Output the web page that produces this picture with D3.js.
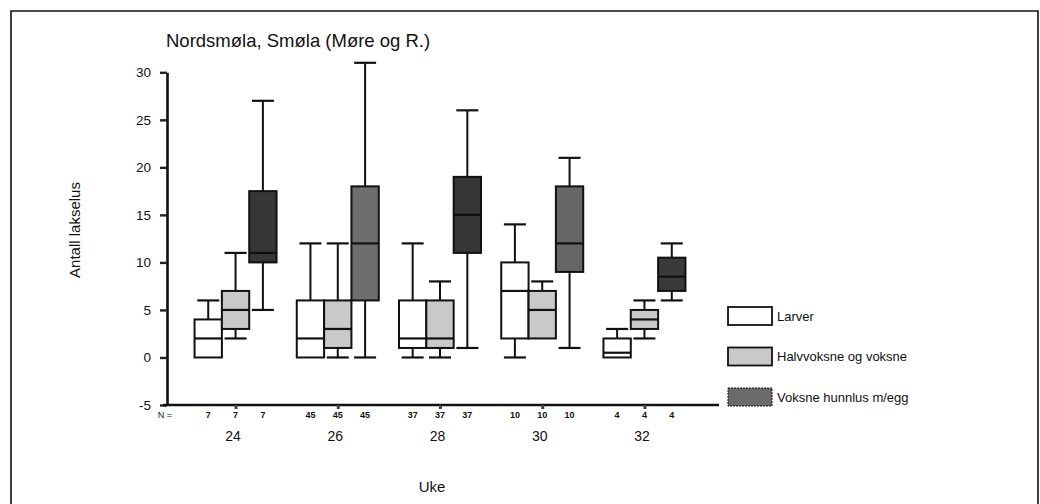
<!DOCTYPE html>
<html>
<head>
<meta charset="utf-8">
<script src="https://cdn.jsdelivr.net/npm/d3@7/dist/d3.min.js"></script>
<style>
  html, body { margin: 0; padding: 0; background: #fff; }
  svg { display: block; font-family: "Liberation Sans", Arial, sans-serif; }
</style>
</head>
<body>
<svg id="chart" width="1040" height="504"></svg>
<script>
// Weeks (Uke) and the three louse stages
const weeks = [24, 26, 28, 30, 32];
const stages = ["Larver", "Halvvoksne og voksne", "Voksne hunnlus m/egg"];
const yTicks = [-5, 0, 5, 10, 15, 20, 25, 30];

// Sample size per week (same for all stages)
const nPerWeek = [7, 45, 37, 10, 4];

// Box statistics per week: [min, q1, median, q3, max]
const larver = [
  [0, 0, 2, 4, 6],
  [0, 0, 2, 6, 12],
  [0, 1, 2, 6, 12],
  [0, 2, 7, 10, 14],
  [0, 0, 0.5, 2, 3]
];
const halvvoksne = [
  [2, 3, 5, 7, 11],
  [0, 1, 3, 6, 12],
  [0, 1, 2, 6, 8],
  [2, 2, 5, 7, 8],
  [2, 3, 4, 5, 6]
];
const hunnlus = [
  [5, 10, 11, 17.5, 27],
  [0, 6, 12, 18, 31],
  [1, 11, 15, 19, 26],
  [1, 9, 12, 18, 21],
  [6, 7, 8.5, 10.5, 12]
];

const seriesStats = [larver, halvvoksne, hunnlus];

// Fill shades: the egg-bearing females print darker in some weeks
const stageFill = ["#ffffff", "#c9c9c9", "#6a6a6a"];
const femaleShadeByWeek = ["#363636", "#6e6e6e", "#363636", "#666666", "#3a3a3a"];

const svg = d3.select("#chart");

// Outer frame
const frame = svg.append("g").attr("stroke", "#111").attr("stroke-width", 1.6).attr("fill", "none");
frame.append("path").attr("d", "M11,504 L11,11 L1038,11 L1038,504");

// Scales
const x = d3.scalePoint().domain(weeks).range([164, 716]).padding(0.7);
const inner = d3.scaleBand().domain(stages).range([-41, 41]);
const bw = inner.bandwidth();
const y = d3.scaleLinear().domain([-5, 30]).range([405, 72.3]);

// Title
svg.append("text")
  .attr("x", 166).attr("y", 47)
  .attr("font-size", 18.5)
  .attr("fill", "#111")
  .text("Nordsmøla, Smøla (Møre og R.)");

// Y axis
const yAxis = svg.append("g")
  .attr("transform", "translate(167,0)")
  .call(d3.axisLeft(y).tickValues(yTicks).tickFormat(d => String(d))
    .tickSize(7).tickPadding(9).tickSizeOuter(0));
yAxis.select(".domain").attr("stroke", "#111").attr("stroke-width", 2.6);
yAxis.selectAll(".tick line").attr("stroke", "#222").attr("stroke-width", 2.4);
yAxis.selectAll(".tick text")
  .attr("font-size", 13.5).attr("fill", "#111")
  .attr("font-family", "Liberation Sans, Arial, sans-serif");

// Y axis title
svg.append("text")
  .attr("transform", "translate(80,230) rotate(-90)")
  .attr("text-anchor", "middle")
  .attr("font-size", 15)
  .attr("fill", "#111")
  .text("Antall lakselus");

// X axis (week labels sit below the N row)
const xAxis = svg.append("g")
  .attr("transform", "translate(0,405)")
  .call(d3.axisBottom(x).tickSize(4).tickPadding(22).tickSizeOuter(0));
xAxis.select(".domain").attr("stroke", "#111").attr("stroke-width", 2.6)
  .attr("d", "M163,0H719");
xAxis.selectAll(".tick line").attr("stroke", "#444").attr("stroke-width", 3);
xAxis.selectAll(".tick text")
  .attr("font-size", 14).attr("fill", "#111")
  .attr("dx", -3)
  .attr("font-family", "Liberation Sans, Arial, sans-serif");

// X axis title
svg.append("text")
  .attr("x", 432).attr("y", 492)
  .attr("text-anchor", "middle")
  .attr("font-size", 15)
  .attr("fill", "#111")
  .text("Uke");

// N row
svg.append("text")
  .attr("x", 165).attr("y", 418)
  .attr("text-anchor", "middle")
  .attr("font-size", 9)
  .attr("fill", "#111")
  .text("N =");

const nRow = svg.append("g");
weeks.forEach((w, wi) => {
  stages.forEach(s => {
    nRow.append("text")
      .attr("x", x(w) + inner(s) + bw / 2)
      .attr("y", 418)
      .attr("text-anchor", "middle")
      .attr("font-size", 9)
      .attr("font-weight", "bold")
      .attr("fill", "#111")
      .text(nPerWeek[wi]);
  });
});

// Box plots
const capHalf = 11;
const boxes = svg.append("g");
stages.forEach((s, si) => {
  seriesStats[si].forEach((st, wi) => {
    const [mn, q1, med, q3, mx] = st;
    const cx = x(weeks[wi]) + inner(s) + bw / 2;
    const x0 = x(weeks[wi]) + inner(s);
    const g = boxes.append("g");
    const fill = si === 2 ? femaleShadeByWeek[wi] : stageFill[si];

    // whiskers
    if (mx > q3) {
      g.append("line").attr("x1", cx).attr("x2", cx).attr("y1", y(q3)).attr("y2", y(mx))
        .attr("stroke", "#111").attr("stroke-width", 2);
      g.append("line").attr("x1", cx - capHalf).attr("x2", cx + capHalf).attr("y1", y(mx)).attr("y2", y(mx))
        .attr("stroke", "#111").attr("stroke-width", 2.2);
    }
    if (mn < q1) {
      g.append("line").attr("x1", cx).attr("x2", cx).attr("y1", y(q1)).attr("y2", y(mn))
        .attr("stroke", "#111").attr("stroke-width", 2);
      g.append("line").attr("x1", cx - capHalf).attr("x2", cx + capHalf).attr("y1", y(mn)).attr("y2", y(mn))
        .attr("stroke", "#111").attr("stroke-width", 2.2);
    }

    // box
    g.append("rect")
      .attr("x", x0).attr("width", bw)
      .attr("y", y(q3)).attr("height", y(q1) - y(q3))
      .attr("fill", fill)
      .attr("stroke", "#111").attr("stroke-width", 2);

    // median
    g.append("line").attr("x1", x0).attr("x2", x0 + bw).attr("y1", y(med)).attr("y2", y(med))
      .attr("stroke", "#111").attr("stroke-width", 2.2);
  });
});

// Legend
const legend = svg.append("g").attr("transform", "translate(728,307)");
const legendFill = ["#ffffff", "#c9c9c9", "#6a6a6a"];
stages.forEach((s, i) => {
  const row = legend.append("g").attr("transform", `translate(0,${i * 40.5})`);
  row.append("rect")
    .attr("width", 44).attr("height", 18)
    .attr("fill", legendFill[i])
    .attr("stroke", "#111").attr("stroke-width", i === 2 ? 1 : 1.8)
    .attr("stroke-dasharray", i === 2 ? "2,1" : null);
  row.append("text")
    .attr("x", 49).attr("y", 9)
    .attr("dy", "0.35em")
    .attr("font-size", 13)
    .attr("fill", "#111")
    .text(s);
});
</script>
</body>
</html>
